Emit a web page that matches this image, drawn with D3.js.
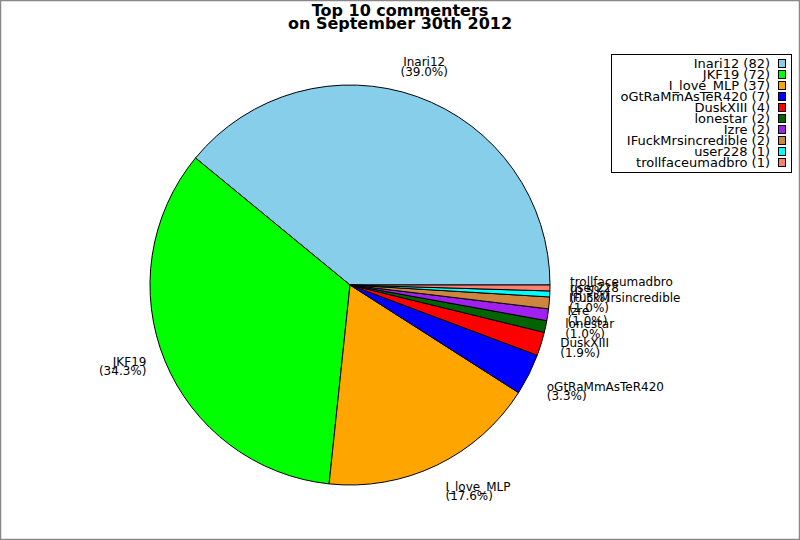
<!DOCTYPE html>
<html><head><meta charset="utf-8">
<script src="https://cdn.jsdelivr.net/npm/d3@7"></script>
<style>body{margin:0;background:#fff}svg{display:block}</style>
</head><body>
<svg id="c" width="800" height="540"></svg>
<script>
const names = ["Inari12","JKF19","I_love_MLP","oGtRaMmAsTeR420","DuskXIII","lonestar","Izre","IFuckMrsincredible","user228","trollfaceumadbro"];
const counts = [82,72,37,7,4,2,2,2,1,1];
const colors = ["#87CEEB","#00FF00","#FFA500","#0000FF","#FF0000","#006400","#A020F0","#CD853F","#00FFFF","#FA8072"];
const titleLines = ["Top 10 commenters","on September 30th 2012"];

const W=800,H=540,cx=350,cy=285,R=200,LR=220;
const svg=d3.select("#c");
svg.append("rect").attr("x",0.5).attr("y",0.5).attr("width",W-1).attr("height",H-1)
  .attr("fill","#fff").attr("stroke","#888").attr("stroke-width",1.5);

const total=d3.sum(counts);
const data=names.map((n,i)=>({name:n,value:counts[i],color:colors[i]}));
const pie=d3.pie().value(d=>d.value).sort(null).startAngle(Math.PI/2).endAngle(Math.PI/2-2*Math.PI);
const arcs=pie(data);
const arc=d3.arc().innerRadius(0).outerRadius(R);
const g=svg.append("g").attr("transform",`translate(${cx},${cy})`);
g.selectAll("path").data(arcs).join("path").attr("d",arc)
  .attr("fill",d=>d.data.color).attr("stroke","#000").attr("stroke-width",1);

const fmt=d3.format(".1f");
arcs.forEach(a=>{
  const m=(a.startAngle+a.endAngle)/2;
  const x=cx+LR*Math.sin(m), y=cy-LR*Math.cos(m);
  let th=Math.atan2(-(y-cy),x-cx)*180/Math.PI; if(th<0) th+=360;
  const sec=Math.round(th/45)%8; // 0=E,1=NE,2=N,...
  const ha=[0,0,1,2,2,2,1,0][sec]; // 0 left,1 center,2 right
  const va=[1,0,0,0,1,2,2,2][sec]; // 0 bottom,1 center,2 top
  const anchor=["start","middle","end"][ha];
  let b1;
  if(va===0) b1=y-11.5; else if(va===1) b1=y-2.5; else b1=y+7.5;
  const t=svg.append("text").attr("font-family","DejaVu Sans").attr("font-size",12)
    .attr("text-anchor",anchor).attr("fill","#000");
  t.append("tspan").attr("x",x).attr("y",b1).text(a.data.name);
  t.append("tspan").attr("x",x).attr("y",b1+9.5).text("("+fmt(a.data.value/total*100)+"%)");
});

// title
titleLines.forEach((s,i)=>{
  svg.append("text").attr("x",400).attr("y",15.5+i*13).attr("text-anchor","middle")
    .attr("font-family","DejaVu Sans").attr("font-weight","bold").attr("font-size",16).text(s);
});

// legend
svg.append("rect").attr("x",611.5).attr("y",54.5).attr("width",180).attr("height",118)
  .attr("fill","#fff").attr("stroke","#000").attr("stroke-width",1);
const ly=d3.scaleLinear().domain([0,names.length-1]).range([68,167]);
data.forEach((d,i)=>{
  svg.append("text").attr("x",770).attr("y",ly(i)).attr("text-anchor","end")
    .attr("font-family","DejaVu Sans").attr("font-size",13).text(`${d.name} (${d.value})`);
  svg.append("rect").attr("x",778.5).attr("y",ly(i)-8.5).attr("width",7).attr("height",8)
    .attr("fill",d.color).attr("stroke","#000").attr("stroke-width",1);
});
</script>
</body></html>
